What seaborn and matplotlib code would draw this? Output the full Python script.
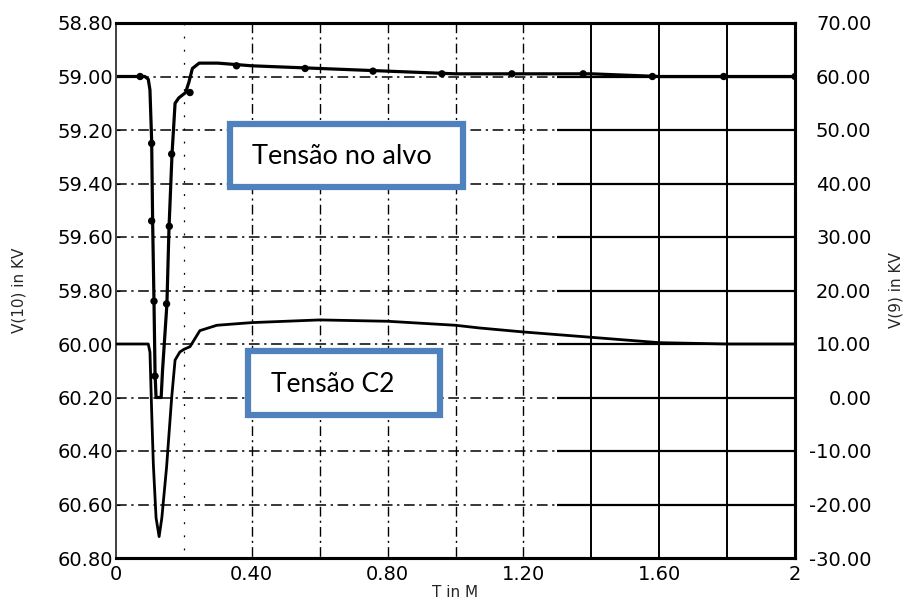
import matplotlib
matplotlib.use("Agg")
import matplotlib.pyplot as plt
import numpy as np
import pandas as pd
import seaborn as sns
from matplotlib.patches import Rectangle

# Tensão no alvo, left axis (V(10) in kV, inverted)
alvo_t = [0.0, 0.085, 0.095, 0.100, 0.105, 0.108, 0.112, 0.115, 0.118, 0.125,
          0.133, 0.137, 0.150, 0.156, 0.165, 0.174, 0.185, 0.205, 0.215, 0.225,
          0.245, 0.30, 0.40, 0.60, 0.80, 1.00, 1.20, 1.40, 1.60, 1.80, 2.00]
alvo_v = [59.00, 59.00, 59.01, 59.05, 59.24, 59.55, 59.85, 60.11, 60.20, 60.20,
          60.20, 60.10, 59.85, 59.57, 59.29, 59.10, 59.08, 59.06, 59.02, 58.97,
          58.95, 58.95, 58.96, 58.97, 58.98, 58.99, 58.99, 58.99, 59.00, 59.00, 59.00]

# plotter symbols on the same curve
sym_t = [0.071, 0.105, 0.105, 0.112, 0.115, 0.149, 0.157, 0.164, 0.218,
         0.355, 0.557, 0.757, 0.96, 1.166, 1.376, 1.58, 1.79, 2.0]
sym_v = [59.00, 59.25, 59.54, 59.84, 60.12, 59.85, 59.56, 59.29, 59.06,
         58.96, 58.97, 58.98, 58.99, 58.99, 58.99, 59.00, 59.00, 59.00]

# Tensão C2, right axis (V(9) in kV)
c2_t = [0.0, 0.095, 0.100, 0.105, 0.110, 0.118, 0.127, 0.135, 0.149, 0.164,
        0.174, 0.188, 0.200, 0.218, 0.247, 0.297, 0.40, 0.60, 0.80, 1.00,
        1.07, 1.20, 1.40, 1.60, 1.80, 2.00]
c2_v = [10.0, 10.0, 8.5, -2.5, -12.5, -22.5, -26.0, -22.5, -13.0, 0.0,
        7.0, 8.5, 9.0, 9.5, 12.5, 13.5, 14.0, 14.5, 14.25, 13.5,
        13.0, 12.25, 11.25, 10.25, 10.0, 10.0]

left_ticks = [58.8, 59.0, 59.2, 59.4, 59.6, 59.8, 60.0, 60.2, 60.4, 60.6, 60.8]
left_labels = ["58.80", "59.00", "59.20", "59.40", "59.60", "59.80",
               "60.00", "60.20", "60.40", "60.60", "60.80"]
right_ticks = [70, 60, 50, 40, 30, 20, 10, 0, -10, -20, -30]
right_labels = ["70.00", "60.00", "50.00", "40.00", "30.00", "20.00",
                "10.00", "0.00", "-10.00", "-20.00", "-30.00"]
x_ticks = [0, 0.4, 0.8, 1.2, 1.6, 2.0]
x_labels = ["0", "0.40", "0.80", "1.20", "1.60", "2"]
grid_x_faint = [0.2]
grid_x_dashed = [0.4, 0.6, 0.8, 1.0, 1.2]
grid_x_solid = [1.4, 1.6, 1.8]

sns.set_style("white")
plt.rcParams["font.family"] = ["DejaVu Sans"]

W, H = 906, 600
fig = plt.figure(figsize=(W / 100, H / 100), dpi=100)
ax = fig.add_axes([116 / W, 42 / H, 679 / W, 535 / H])
ax.set_xlim(0, 2)
ax.set_ylim(60.8, 58.8)

# plotter grid: dash-dot on the left part, solid on the right part
dd = (0, (7, 3, 1.5, 3))
for y in left_ticks[1:-1]:
    ax.hlines(y, 0, 1.3, colors="black", lw=1.1, linestyles=dd, zorder=1)
    ax.hlines(y, 1.3, 2, colors="black", lw=1.6, zorder=1)
for x in grid_x_faint:
    ax.vlines(x, 58.8, 60.8, colors="black", lw=0.9,
              linestyles=(0, (1.5, 9)), zorder=1)
for x in grid_x_dashed:
    ax.vlines(x, 58.8, 60.8, colors="black", lw=1.0, linestyles=dd, zorder=1)
for x in grid_x_solid:
    ax.vlines(x, 58.8, 60.8, colors="black", lw=1.4, zorder=1)

df_alvo = pd.DataFrame({"t": alvo_t, "v": alvo_v})
sns.lineplot(data=df_alvo, x="t", y="v", ax=ax, color="black", lw=2.3,
             sort=False, zorder=3)
sns.scatterplot(x=sym_t, y=sym_v, ax=ax, color="black", s=28,
                edgecolor="none", zorder=4)

ax.set_xticks(x_ticks)
ax.set_xticklabels(x_labels)
ax.set_yticks(left_ticks)
ax.set_yticklabels(left_labels)
ax.tick_params(axis="both", length=3, direction="in", labelsize=14,
               colors="black")
ax.tick_params(axis="y", pad=2)
ax.tick_params(axis="x", pad=5)
ax.set_xlabel("T in M", fontsize=11, labelpad=1)
ax.set_ylabel("V(10) in KV", fontsize=11, labelpad=22)

ax2 = ax.twinx()
ax2.set_ylim(-30, 70)
df_c2 = pd.DataFrame({"t": c2_t, "v": c2_v})
sns.lineplot(data=df_c2, x="t", y="v", ax=ax2, color="black", lw=2.0,
             sort=False, zorder=3)
ax2.set_yticks(right_ticks)
ax2.set_yticklabels(right_labels)
ax2.tick_params(axis="y", length=0, labelsize=14, pad=55, colors="black")
for lbl in ax2.get_yticklabels():
    lbl.set_horizontalalignment("right")
ax2.set_xlabel("")
ax2.set_ylabel("V(9) in KV", fontsize=11, labelpad=12, rotation=90)

for a in (ax, ax2):
    for side in ["top", "bottom", "right"]:
        a.spines[side].set_color("black")
        a.spines[side].set_linewidth(2.2)
    a.spines["left"].set_color("#444444")
    a.spines["left"].set_linewidth(1.4)

# annotation boxes
blue = "#4F81BD"
fig.add_artist(Rectangle((230 / W, 1 - 187 / H), 233 / W, 63 / H,
                         transform=fig.transFigure, facecolor="white",
                         edgecolor=blue, lw=4.5, zorder=10))
fig.text(342 / W, 1 - 156 / H, "Tensão no alvo", fontsize=19.5, color="black",
         family="Lato", ha="center", va="center", zorder=11)
fig.add_artist(Rectangle((248 / W, 1 - 415 / H), 192 / W, 64 / H,
                         transform=fig.transFigure, facecolor="white",
                         edgecolor=blue, lw=4.5, zorder=10))
fig.text(333 / W, 1 - 385 / H, "Tensão C2", fontsize=19, color="black",
         family="Lato", ha="center", va="center", zorder=11)

fig.savefig("out.png", dpi=100, facecolor="white")
